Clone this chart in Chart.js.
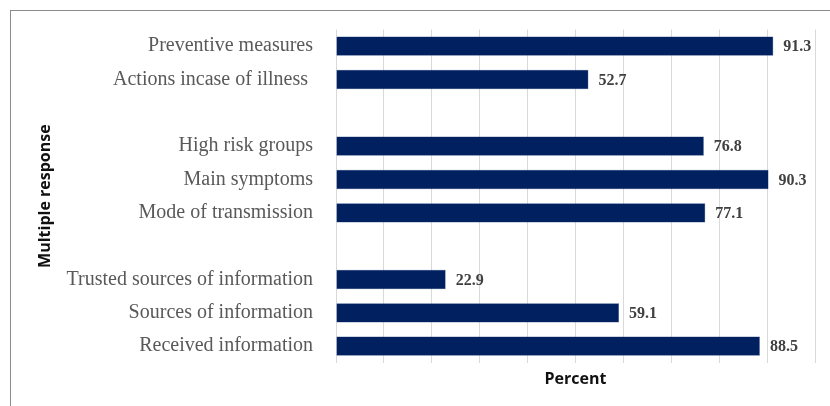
<!DOCTYPE html>
<html>
<head>
<meta charset="utf-8">
<script src="https://cdn.jsdelivr.net/npm/chart.js@4"></script>
<style>
  html, body { margin: 0; padding: 0; background: #fff; }
  #wrap { position: relative; width: 830px; height: 406px; overflow: hidden; }
  #frame { position: absolute; left: 10px; top: 10px; width: 900px; height: 500px;
           border-left: 1px solid #8c8c8c; border-top: 1px solid #8c8c8c; }
  canvas { position: absolute; left: 0; top: 0; }
</style>
</head>
<body>
<div id="wrap">
  <div id="frame"></div>
  <canvas id="chart" width="830" height="406"></canvas>
</div>
<script>
// rows top to bottom, blank rows are the gaps between groups
const categories = [
  "Preventive measures",
  "Actions incase of illness ",
  "",
  "High risk groups",
  "Main symptoms",
  "Mode of transmission",
  "",
  "Trusted sources of information",
  "Sources of information",
  "Received information",
];
const percent = [91.3, 52.7, null, 76.8, 90.3, 77.1, null, 22.9, 59.1, 88.5];
const xMin = 0;
const xMax = 100;
const xStep = 10;

const valueLabels = {
  id: "valueLabels",
  afterDatasetsDraw(chart) {
    const ctx = chart.ctx;
    const meta = chart.getDatasetMeta(0);
    ctx.save();
    ctx.font = "bold 16px 'Liberation Serif'";
    ctx.fillStyle = "#404040";
    ctx.textAlign = "left";
    ctx.textBaseline = "middle";
    meta.data.forEach((bar, i) => {
      const v = percent[i];
      if (v == null) return;
      ctx.fillText(v.toFixed(1), bar.x + 10, bar.y + 1);
    });
    ctx.restore();
  },
};

const ctx = document.getElementById("chart").getContext("2d");
new Chart(ctx, {
  type: "bar",
  data: {
    labels: categories,
    datasets: [
      {
        data: percent,
        backgroundColor: "#002060",
        borderColor: "#3d5a8c",
        borderWidth: 0.5,
        barPercentage: 0.58,
        categoryPercentage: 1,
      },
    ],
  },
  options: {
    indexAxis: "y",
    responsive: false,
    animation: false,
    layout: { padding: { left: 10, right: 15, top: 29.5, bottom: 9 } },
    plugins: { legend: { display: false }, tooltip: { enabled: false } },
    scales: {
      x: {
        min: xMin,
        max: xMax,
        ticks: { display: false, stepSize: xStep },
        grid: { color: "#d9d9d9", lineWidth: 1, drawTicks: false },
        border: { display: false },
        title: {
          display: true,
          text: "Percent",
          color: "#111",
          font: { family: "'Open Sans'", size: 16, weight: "bold" },
          padding: { top: 7, bottom: 8 },
        },
      },
      y: {
        grid: { display: false, drawTicks: false },
        border: { display: false },
        ticks: {
          color: "#595959",
          padding: 23,
          font: { family: "'Liberation Serif'", size: 20 },
        },
        title: {
          display: true,
          text: "Multiple response",
          color: "#111",
          font: { family: "'Open Sans'", size: 16, weight: "bold" },
          padding: { top: 26, bottom: 0 },
        },
        afterFit(scale) {
          scale.width = 326;
          scale.paddingTop = 0;
          scale.paddingBottom = 0;
        },
      },
    },
  },
  plugins: [valueLabels],
});
</script>
</body>
</html>
